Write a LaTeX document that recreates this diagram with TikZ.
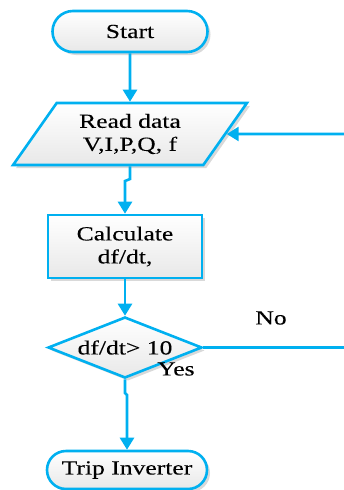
\documentclass[tikz,border=0pt]{standalone}
\usepackage{fontspec}
\setmainfont[FakeStretch=1.28,FakeBold=0.15]{Liberation Serif}
\usetikzlibrary{shapes.geometric,shapes.misc,shadows,arrows.meta}
\definecolor{flowblue}{RGB}{0,176,240}
\tikzset{
  box/.style={draw=flowblue, line width=2.6pt, top color=white, bottom color=black!9,
    drop shadow={opacity=0.3, shadow xshift=3pt, shadow yshift=-3pt},
    align=center, inner sep=0pt, font=\fontsize{20}{23}\selectfont},
  term/.style={box, rounded rectangle},
  io/.style={box, trapezium, trapezium left angle=53, trapezium right angle=127,
    trapezium stretches=true},
  proc/.style={box, rectangle},
  dec/.style={box, diamond},
  flow/.style={draw=flowblue, line width=2.6pt, -{Triangle[length=12pt,width=14pt]}},
  plain/.style={draw=flowblue, line width=2.6pt},
  lbl/.style={font=\fontsize{20}{23}\selectfont, inner sep=0pt}
}
\begin{document}
\begin{tikzpicture}[x=1pt,y=-1pt]
\useasboundingbox (0,0) rectangle (344,490);
\node[term, minimum width=155pt, minimum height=41pt] (start) at (130,31.5) {Start};
\node[io, minimum width=234pt, minimum height=62pt] (read) at (130,134) {Read data\\V,I,P,Q, f};
\node[proc, minimum width=154pt, minimum height=63pt] (calc) at (125,246.5) {Calculate\\df/dt,};
\node[dec, minimum width=154pt, minimum height=61pt, aspect=2.52] (cond) at (125,347.5) {df/dt> 10};
\node[term, minimum width=160pt, minimum height=38pt] (trip) at (127,470) {Trip Inverter};
\node[lbl] (no) at (271,318) {No};
\node[lbl] (yes) at (176,369) {Yes};
\coordinate (in) at (344,134);
\coordinate (out) at (344,347.5);
\coordinate (j1) at (130,179);
\coordinate (j2) at (125,181);
\coordinate (k1) at (125,393);
\coordinate (k2) at (127,395);
\draw[flow] (start.south) -- (read.north);
\draw[flow] (in) -- (read.east);
\draw[flow] (read.south) -- (j1) -- (j2) -- (calc.north);
\draw[flow] (calc.south) -- (cond.north);
\draw[plain] (cond.east) -- (out);
\draw[flow] (cond.south) -- (k1) -- (k2) -- (trip.north);
\end{tikzpicture}
\end{document}
